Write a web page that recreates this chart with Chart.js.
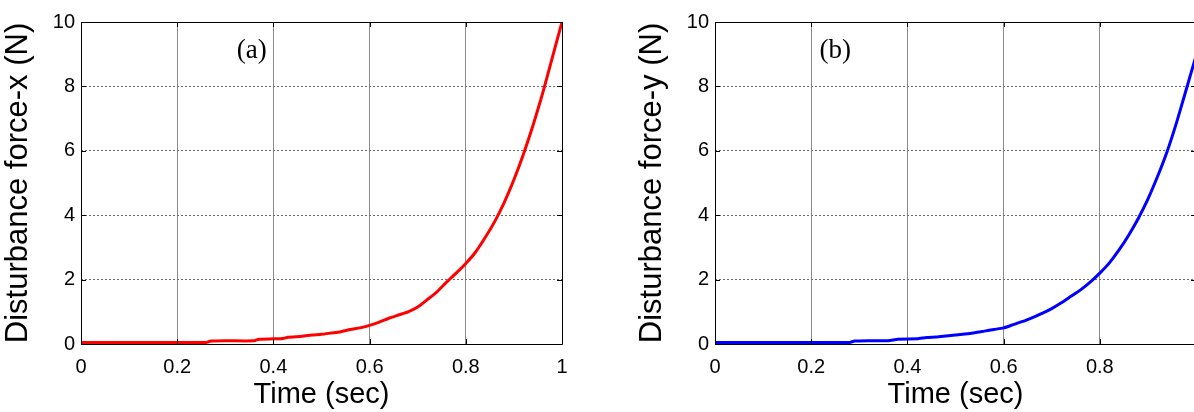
<!DOCTYPE html>
<html>
<head>
<meta charset="utf-8">
<script src="https://cdn.jsdelivr.net/npm/chart.js@4/dist/chart.umd.min.js"></script>
<style>
  html, body { margin: 0; padding: 0; background: #fff; overflow: hidden; width: 1194px; height: 412px; }
  .wrap { position: absolute; top: 0; width: 600px; height: 412px; }
  canvas { display: block; }
</style>
</head>
<body>
<div class="wrap" style="left:0px"><canvas id="chartA" width="600" height="412"></canvas></div>
<div class="wrap" style="left:634px"><canvas id="chartB" width="600" height="412"></canvas></div>
<script>
// ---- data ----
const timeA  = [0, 0.05, 0.10, 0.15, 0.20, 0.26, 0.27, 0.30, 0.36, 0.37, 0.40, 0.42, 0.43, 0.46, 0.48, 0.50, 0.52, 0.54, 0.56, 0.58, 0.60, 0.62, 0.64, 0.66, 0.68, 0.70, 0.72, 0.74, 0.76, 0.78, 0.80, 0.82, 0.84, 0.86, 0.88, 0.90, 0.92, 0.94, 0.96, 0.98, 1.00];
const forceA = [0.05, 0.05, 0.05, 0.05, 0.05, 0.05, 0.09, 0.10, 0.10, 0.15, 0.16, 0.17, 0.21, 0.24, 0.28, 0.30, 0.34, 0.38, 0.45, 0.50, 0.58, 0.68, 0.80, 0.90, 1.00, 1.15, 1.38, 1.62, 1.92, 2.20, 2.50, 2.85, 3.30, 3.80, 4.40, 5.10, 5.90, 6.80, 7.80, 8.90, 10.0];

const timeB  = [0, 0.05, 0.10, 0.15, 0.20, 0.25, 0.28, 0.29, 0.32, 0.36, 0.38, 0.42, 0.44, 0.46, 0.48, 0.50, 0.52, 0.54, 0.56, 0.58, 0.60, 0.62, 0.64, 0.66, 0.68, 0.70, 0.72, 0.74, 0.76, 0.78, 0.80, 0.82, 0.84, 0.86, 0.88, 0.90, 0.92, 0.94, 0.96, 0.98, 1.00];
const forceB = [0.05, 0.05, 0.05, 0.05, 0.05, 0.05, 0.05, 0.09, 0.10, 0.10, 0.15, 0.16, 0.20, 0.22, 0.25, 0.28, 0.31, 0.35, 0.40, 0.45, 0.50, 0.60, 0.70, 0.82, 0.95, 1.10, 1.28, 1.48, 1.68, 1.92, 2.20, 2.52, 2.92, 3.38, 3.90, 4.50, 5.20, 5.98, 6.90, 7.92, 8.95];

const xTicks = [0, 0.2, 0.4, 0.6, 0.8, 1];
const yTicks = [0, 2, 4, 6, 8, 10];

const yTitles = ['Disturbance force-x (N)', 'Disturbance force-y (N)'];
const xTitle = 'Time (sec)';
const panelLabels = ['(a)', '(b)'];
const panelLabelPos = [[0.355, 9.1], [0.25, 9.1]];
const hideLastXLabel = [false, true];

const TICK_FONT = { family: 'Liberation Sans, Arial, sans-serif', size: 20 };
const XTITLE_FONT = { family: 'Liberation Sans, Arial, sans-serif', size: 29 };
const YTITLE_FONT = { family: 'Liberation Sans, Arial, sans-serif', size: 31 };

// frame + inward ticks + panel label (MATLAB style)
const matlabFrame = {
  id: 'matlabFrame',
  afterDatasetsDraw(chart, args, opts) {
    const { ctx, chartArea: a, scales } = chart;
    ctx.save();
    ctx.strokeStyle = '#000';
    ctx.lineWidth = 1;
    ctx.beginPath();
    ctx.rect(Math.round(a.left) + 0.5, Math.round(a.top) + 0.5, Math.round(a.right - a.left), Math.round(a.bottom - a.top));
    ctx.stroke();
    const L = 5;
    ctx.beginPath();
    xTicks.forEach(v => {
      const px = Math.round(scales.x.getPixelForValue(v)) + 0.5;
      ctx.moveTo(px, a.bottom); ctx.lineTo(px, a.bottom - L);
      ctx.moveTo(px, a.top); ctx.lineTo(px, a.top + L);
    });
    yTicks.forEach(v => {
      const py = Math.round(scales.y.getPixelForValue(v)) + 0.5;
      ctx.moveTo(a.left, py); ctx.lineTo(a.left + L, py);
      ctx.moveTo(a.right, py); ctx.lineTo(a.right - L, py);
    });
    ctx.stroke();
    // panel label
    ctx.fillStyle = '#000';
    ctx.font = '27px "Liberation Serif", "Times New Roman", serif';
    ctx.textAlign = 'center';
    ctx.textBaseline = 'middle';
    const p = opts.pos;
    ctx.fillText(opts.label, scales.x.getPixelForValue(p[0]), scales.y.getPixelForValue(p[1]));
    ctx.restore();
  }
};

function makeChart(id, times, forces, color, idx) {
  const pts = times.map((t, i) => ({ x: t, y: forces[i] }));
  return new Chart(document.getElementById(id), {
    type: 'line',
    data: {
      datasets: [{
        data: pts,
        borderColor: color,
        borderWidth: 3,
        pointRadius: 0,
        tension: 0.2,
        fill: false
      }]
    },
    options: {
      responsive: false,
      animation: false,
      events: [],
      layout: { padding: { left: 0, right: 38, top: 22, bottom: 0 } },
      plugins: {
        legend: { display: false },
        tooltip: { enabled: false },
        matlabFrame: { label: panelLabels[idx], pos: panelLabelPos[idx] }
      },
      scales: {
        x: {
          type: 'linear',
          min: 0, max: 1,
          afterBuildTicks: s => { s.ticks = xTicks.map(v => ({ value: v })); },
          afterFit: s => { s.height = 68; },
          ticks: {
            color: '#000',
            font: TICK_FONT,
            padding: 11,
            maxRotation: 0,
            autoSkip: false,
            callback: v => (hideLastXLabel[idx] && v === 1) ? '' : String(Number(v.toFixed(1)))
          },
          grid: { color: '#8c8c8c', lineWidth: 1, drawTicks: false },
          border: { display: false },
          title: { display: true, text: xTitle, color: '#000', font: XTITLE_FONT, padding: { top: 0, bottom: 0 } }
        },
        y: {
          type: 'linear',
          min: 0, max: 10,
          afterBuildTicks: s => { s.ticks = yTicks.map(v => ({ value: v })); },
          afterFit: s => { s.width = 81; },
          ticks: {
            color: '#000',
            font: TICK_FONT,
            padding: 6,
            autoSkip: false
          },
          grid: { color: '#6a6a6a', lineWidth: 1, drawTicks: false },
          border: { display: false, dash: [2, 2] },
          title: { display: true, text: yTitles[idx], color: '#000', font: YTITLE_FONT, padding: { top: 0, bottom: 6 } }
        }
      }
    },
    plugins: [matlabFrame]
  });
}

const cA = makeChart('chartA', timeA, forceA, '#ff0000', 0);
const cB = makeChart('chartB', timeB, forceB, '#0000ff', 1);
</script>
</body>
</html>
